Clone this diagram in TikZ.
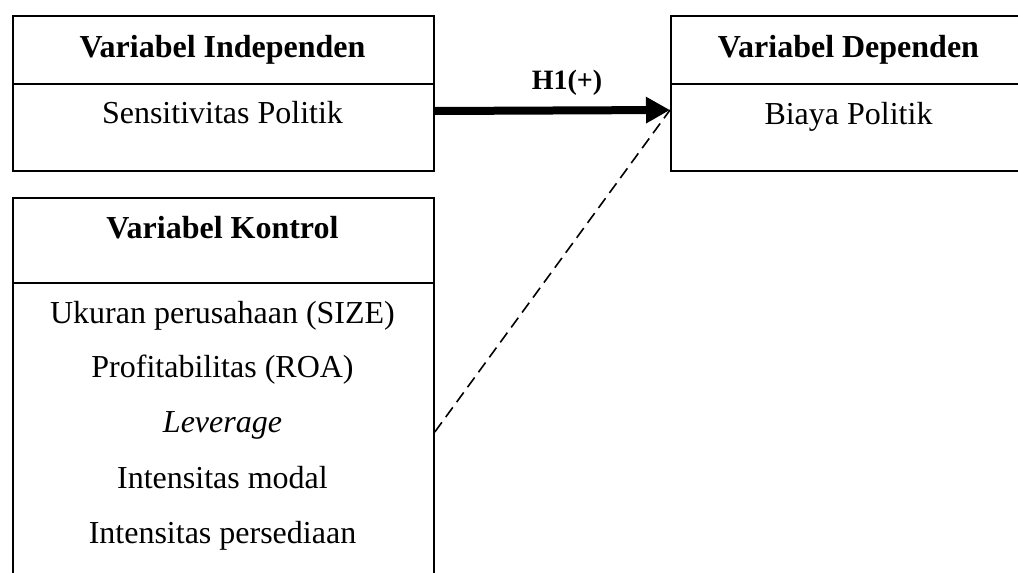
\documentclass[tikz,border=0pt]{standalone}
\usepackage{fontspec}
\setmainfont{Liberation Serif}
\usetikzlibrary{arrows.meta}
\begin{document}
\begin{tikzpicture}[x=1pt,y=-1pt,
  boxshape/.style={draw, line width=1.8pt, rectangle, inner sep=0pt, anchor=north west},
  divline/.style={line width=1.6pt},
  titletext/.style={font=\fontsize{32}{36}\selectfont\bfseries, anchor=base, inner sep=0pt},
  bodytext/.style={font=\fontsize{32}{36}\selectfont, anchor=base, inner sep=0pt},
  labeltext/.style={font=\fontsize{28}{32}\selectfont\bfseries, anchor=base, inner sep=0pt},
  mainarrow/.style={line width=8pt, -{Triangle[length=24pt,width=25pt]}},
  dashline/.style={line width=1.6pt, dash pattern=on 12pt off 6.5pt}
]
\clip (0,0) rectangle (1018,573);
\fill[white] (0,0) rectangle (1018,573);

% Box: Variabel Independen
\node[boxshape, minimum width=421pt, minimum height=155pt] (ind) at (12,15) {};
\draw[divline] (ind.west |- 0,84) -- (ind.east |- 0,84);
\node[titletext] (indT) at (222.5,57) {Variabel Independen};
\node[bodytext] (indB) at (222.5,123) {Sensitivitas Politik};

% Box: Variabel Dependen
\node[boxshape, minimum width=357pt, minimum height=155pt] (dep) at (670,15) {};
\draw[divline] (dep.west |- 0,84) -- (dep.east |- 0,84);
\node[titletext] (depT) at (848.5,57) {Variabel Dependen};
\node[bodytext] (depB) at (848.5,124) {Biaya Politik};

% Box: Variabel Kontrol
\node[boxshape, minimum width=421pt, minimum height=420pt] (kon) at (12,197) {};
\draw[divline] (kon.west |- 0,283) -- (kon.east |- 0,283);
\node[titletext] (konT) at (222.5,238) {Variabel Kontrol};
\node[bodytext] (k1) at (222.5,323) {Ukuran perusahaan (SIZE)};
\node[bodytext] (k2) at (222.5,377) {Profitabilitas (ROA)};
\node[bodytext] (k3) at (222.5,432) {\itshape Leverage};
\node[bodytext] (k4) at (222.5,488) {Intensitas modal};
\node[bodytext] (k5) at (222.5,543) {Intensitas persediaan};

% Connectors
\coordinate (aStart) at (ind.east |- 0,111);
\coordinate (aEnd) at (dep.west |- 0,110);
\coordinate (dStart) at (kon.east |- 0,432);
\draw[mainarrow] (aStart) -- (aEnd);
\draw[dashline] (dStart) -- (aEnd);
\node[labeltext] (h1) at (567,89) {H1(+)};
\end{tikzpicture}
\end{document}
